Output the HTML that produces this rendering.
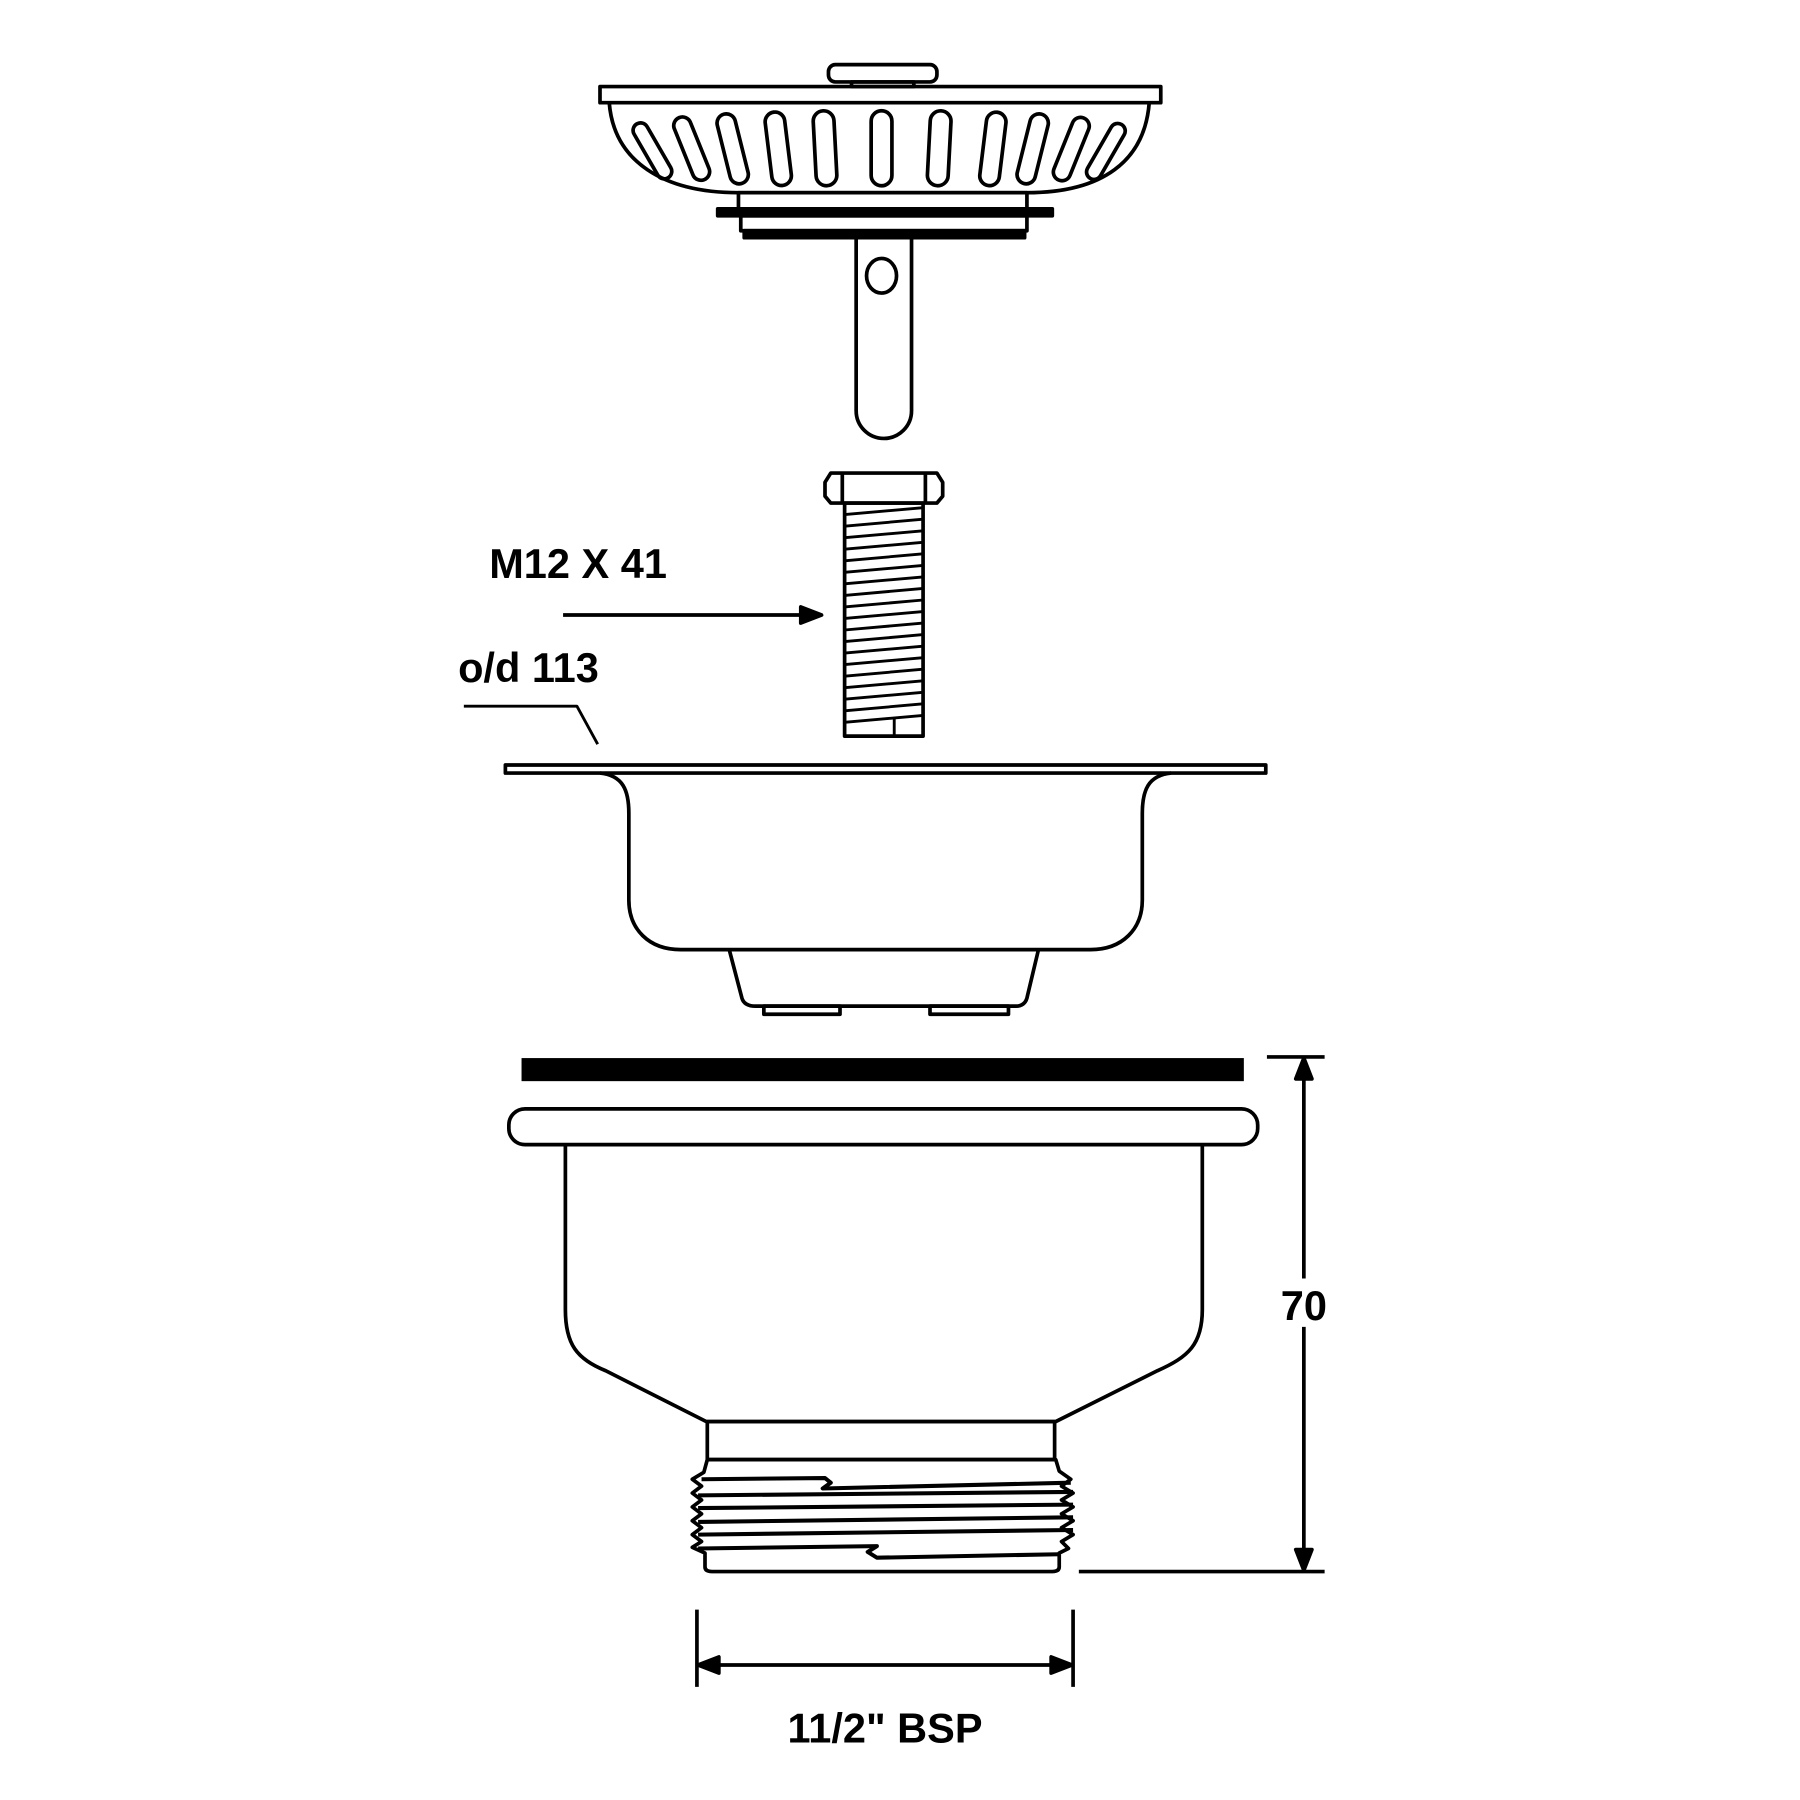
<!DOCTYPE html>
<html><head><style>html,body{margin:0;padding:0;background:#fff}svg{display:block}</style></head>
<body>
<svg width="1800" height="1800" viewBox="0 0 1560 1560" xmlns="http://www.w3.org/2000/svg" fill="none" stroke="#000" stroke-width="3.2" stroke-linejoin="round">
<!-- strainer basket -->
<rect x="718" y="56" width="94" height="15" rx="6"/>
<rect x="738" y="71" width="54" height="4"/>
<rect x="520" y="75" width="486" height="14"/>
<path d="M528,89 C532,140 575,167 640,167 L890,167 C955,167 992,140 996,89"/>
<g>
<rect x="559" y="104" width="13" height="54" rx="6.5" transform="rotate(-30 565 131)"/>
<rect x="592" y="100" width="15" height="58" rx="7.5" transform="rotate(-22 599 129)"/>
<rect x="627" y="98" width="16" height="62" rx="8" transform="rotate(-14 635 129)"/>
<rect x="666" y="97" width="17" height="64" rx="8.5" transform="rotate(-7 674 129)"/>
<rect x="706" y="96" width="18" height="65" rx="9" transform="rotate(-3 715 128)"/>
<rect x="755" y="96" width="18" height="65" rx="9"/>
<rect x="805" y="96" width="18" height="65" rx="9" transform="rotate(3 814 128)"/>
<rect x="852" y="97" width="17" height="64" rx="8.5" transform="rotate(7 860 129)"/>
<rect x="887" y="98" width="16" height="62" rx="8" transform="rotate(14 895 129)"/>
<rect x="921" y="100" width="15" height="58" rx="7.5" transform="rotate(22 928 129)"/>
<rect x="952" y="104" width="13" height="54" rx="6.5" transform="rotate(30 958 131)"/>
</g>
<rect x="640" y="167" width="250" height="14"/>
<rect x="622" y="181" width="290" height="6" fill="#000"/>
<rect x="642" y="187" width="248" height="13"/>
<rect x="645" y="200" width="243" height="6" fill="#000"/>
<path d="M742,206 L742,356 A24,24 0 0 0 790,356 L790,206"/>
<ellipse cx="764" cy="239" rx="13" ry="15"/>
<!-- bolt -->
<path d="M720,410 L812,410 L817,418 L817,430 L812,436 L720,436 L715,430 L715,418 Z"/>
<line x1="730" y1="410" x2="730" y2="436"/><line x1="802" y1="410" x2="802" y2="436"/>
<rect x="732" y="436" width="68" height="202"/>
<g stroke-width="2.5">
<path d="M732,446 L800,440 M732,456 L800,450 M732,466 L800,460 M732,476 L800,470 M732,486 L800,480 M732,496 L800,490 M732,506 L800,500 M732,516 L800,510 M732,526 L800,520 M732,536 L800,530 M732,546 L800,540 M732,556 L800,550 M732,566 L800,560 M732,576 L800,570 M732,586 L800,580 M732,596 L800,590 M732,606 L800,600 M732,616 L800,610 M732,626 L800,620"/>
<path d="M775,622 L775,638"/>
</g>
<text x="424" y="501" font-family="Liberation Sans, sans-serif" font-weight="bold" font-size="36" fill="#000" stroke="none">M12 X 41</text>
<line x1="488" y1="533" x2="700" y2="533"/>
<path d="M712,533 L694,526 L694,540 Z" fill="#000"/>
<text x="397" y="591" font-family="Liberation Sans, sans-serif" font-weight="bold" font-size="36" fill="#000" stroke="none">o/d 113</text>
<path d="M402,612 L500,612 L518,645" stroke-width="2.5"/>
<!-- flange -->
<rect x="438" y="663" width="659" height="7"/>
<path d="M520,670 C540,672 545,685 545,705 L545,780 C545,805 562,823 590,823 L945,823 C973,823 990,805 990,780 L990,705 C990,685 995,672 1015,670"/>
<path d="M632,823 L643,865 Q645,872 655,872 L880,872 Q888,872 890,865 L900,823"/>
<rect x="662" y="872" width="66" height="7"/>
<rect x="806" y="872" width="68" height="7"/>
<!-- gasket -->
<rect x="452" y="917" width="626" height="20" fill="#000" stroke="none"/>
<!-- body -->
<rect x="441" y="961" width="649" height="31" rx="14"/>
<path d="M490,992 L490,1135 C490,1165 500,1178 525,1188 L612,1232 L915,1232 L1003,1188 C1030,1176 1042,1165 1042,1135 L1042,992"/>
<rect x="613" y="1232" width="301" height="33"/>
<path d="M613,1265 L915,1265 L918,1275 L928,1282 L920,1288 L930,1294 L920,1300 L930,1306 L920,1312 L930,1318 L920,1324 L930,1330 L920,1336 L926,1342 L918,1346 L918,1358 Q918,1362 912,1362 L617,1362 Q611,1362 611,1358 L611,1346 L600,1341 L608,1336 L600,1330 L608,1324 L600,1318 L608,1312 L600,1306 L608,1300 L600,1294 L608,1288 L600,1282 L610,1276 Z"/>
<g stroke-width="3.5">
<path d="M608,1282 L715,1281 L720,1285 L713,1290 L928,1285"/>
<path d="M605,1296 L930,1293"/>
<path d="M605,1307 L930,1304"/>
<path d="M605,1319 L930,1315"/>
<path d="M605,1330 L930,1326"/>
<path d="M605,1342 L760,1340 L752,1345 L760,1350 L918,1347"/>
</g>
<!-- dimension 70 -->
<line x1="1098" y1="916" x2="1148" y2="916"/>
<line x1="935" y1="1362" x2="1148" y2="1362"/>
<line x1="1130" y1="930" x2="1130" y2="1108"/>
<line x1="1130" y1="1150" x2="1130" y2="1348"/>
<path d="M1130,917 L1123,935 L1137,935 Z" fill="#000"/>
<path d="M1130,1361 L1123,1343 L1137,1343 Z" fill="#000"/>
<text x="1130" y="1144" text-anchor="middle" font-family="Liberation Sans, sans-serif" font-weight="bold" font-size="36" fill="#000" stroke="none">70</text>
<!-- BSP -->
<line x1="604" y1="1395" x2="604" y2="1462"/>
<line x1="930" y1="1395" x2="930" y2="1462"/>
<line x1="615" y1="1443" x2="919" y2="1443"/>
<path d="M605,1443 L623,1436 L623,1450 Z" fill="#000"/>
<path d="M929,1443 L911,1436 L911,1450 Z" fill="#000"/>
<text x="767" y="1510" text-anchor="middle" font-family="Liberation Sans, sans-serif" font-weight="bold" font-size="36" fill="#000" stroke="none">11/2" BSP</text>
</svg>
</body></html>
